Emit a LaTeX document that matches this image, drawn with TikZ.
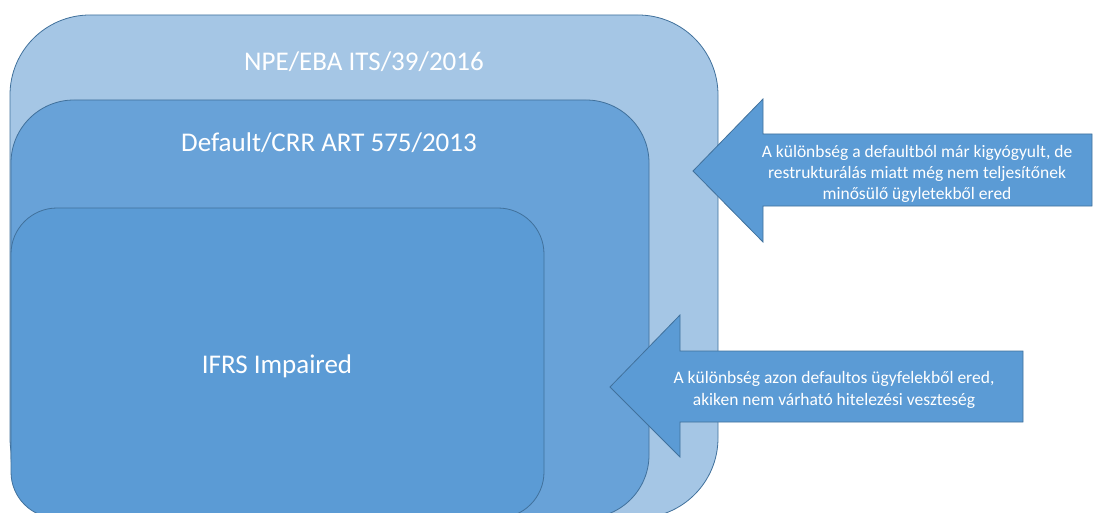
\documentclass[tikz,border=0pt]{standalone}
\usepackage{fontspec}
\setmainfont{Carlito}[Ligatures=NoCommon]
\usepackage{tikz}
\usetikzlibrary{calc}
\definecolor{npeblue}{HTML}{A5C6E5}
\definecolor{crrblue}{HTML}{68A2D8}
\definecolor{ifrsblue}{HTML}{5B9BD5}
\definecolor{edgeblue}{HTML}{41719C}
\tikzset{
	boxline/.style={line width=0.8pt, draw=edgeblue},
	boxlabel/.style={text=white, anchor=base, font=\fontsize{27}{32}\selectfont},
	arrowlabel/.style={text=white, align=center, font=\fontsize{17.5}{21.3}\selectfont}
}

\begin{document}
\begin{tikzpicture}[x=1pt, y=-1pt]
			%%%%% START %%%%%
			
			\useasboundingbox (0, 0) rectangle (1094, 513);
			\clip (0, 0) rectangle (1094, 513);
			
			\draw[boxline, fill=npeblue, rounded corners=80pt] (10, 15) rectangle (718, 518);
			\draw[boxline, fill=crrblue, rounded corners=63pt] (11, 100) rectangle (649, 518);
			\draw[boxline, fill=ifrsblue, rounded corners=46pt] (11, 208) rectangle (544, 518);
			
			\node[boxlabel] (npe) at (364, 71) {NPE/EBA ITS/39/2016};
			\node[boxlabel] (crr) at (329, 152) {Default/CRR ART 575/2013};
			\node[boxlabel] (ifrs) at (277, 373) {IFRS Impaired};
			
			\draw[boxline, fill=ifrsblue] (693, 171) -- (763, 99) -- (763, 134) -- (1092, 134)
				-- (1092, 206) -- (763, 206) -- (763, 242) -- cycle;
			\node[arrowlabel] (restr) at (917, 174) {A különbség a defaultból már kigyógyult, de\\restrukturálás miatt még nem teljesítőnek\\minősülő ügyletekből ered};
			
			\draw[boxline, fill=ifrsblue] (610, 387) -- (680, 315) -- (680, 351) -- (1023, 351)
				-- (1023, 422) -- (680, 422) -- (680, 457) -- cycle;
			\node[arrowlabel] (noloss) at (834, 390) {A különbség azon defaultos ügyfelekből ered,\\akiken nem várható hitelezési veszteség};
			
			%%%%% END %%%%%
\end{tikzpicture}
\end{document}
